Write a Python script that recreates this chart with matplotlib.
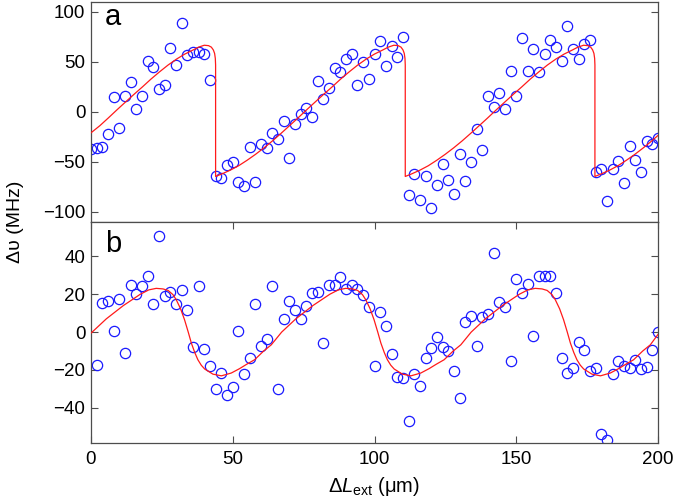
import matplotlib
matplotlib.use("Agg")
import matplotlib.pyplot as plt

plt.rcParams['font.family'] = ['Liberation Sans', 'DejaVu Sans']
plt.rcParams['mathtext.fontset'] = 'custom'
plt.rcParams['mathtext.rm'] = 'Liberation Sans'
plt.rcParams['mathtext.it'] = 'Liberation Sans:italic'

# ---------------- data ----------------
# panel a: measured points (x = 0..200 step 2)
a_x = list(range(0, 201, 2))
a_y = [-37.3, -36.3, -34.7, -22.3, 14.7, -16.3, 16, 30, 2.7, 16.3,
       51, 45.3, 23, 27.3, 63.7, 47.3, 89.3, 57, 60.3, 59.7,
       57.7, 32, -64, -66.7, -53.7, -50.3, -70, -74.7, -35.3, -70,
       -32, -36.7, -20.7, -27.3, -8.7, -46, -12.3, -2, 3.7, -4.7,
       31, 13.3, 24.3, 44, 39.7, 53, 58, 27, 50.3, 33,
       57.7, 71.3, 46, 66.3, 55.3, 75.3, -83.7, -62.3, -88, -64,
       -96.3, -73.7, -52.7, -68, -82, -42.3, -69.7, -50.7, -17.3, -38,
       16.3, 4.7, 19.3, 2.7, 41, 16, 73.7, 41.3, 63.3, 39.7,
       58.3, 72, 65, 51, 85.7, 62.7, 52.7, 67.7, 72, -60,
       -57.3, -89.3, -57, -49.7, -71.7, -33.7, -48.7, -60.3, -28.7, -32,
       -25.7]

# panel a: fitted curve
a_fit_x = [0, 3.15, 6.15, 9.15, 12.15, 15.15, 18.15, 21.15, 24.15, 27.15,
           30.15, 33.05, 36.05, 37.95, 39.95, 41.45, 42.45, 43.15, 43.6, 43.85,
           43.95, 43.95,
           46.05, 49.05, 52.05, 55.05, 58.05, 61.05, 64.05, 67.05, 70.05, 73.05,
           76.05, 79.05, 82.05, 85.05, 88.05, 91.05, 94.05, 97.05, 99.95, 102.95,
           104.85, 106.85, 108.35, 109.35, 110.05, 110.5, 110.75, 110.85, 110.85,
           112.95, 115.95, 118.95, 121.95, 124.95, 127.95, 130.95, 133.95, 136.95,
           139.95, 142.95, 145.95, 148.95, 151.95, 154.95, 157.95, 160.95, 163.95,
           166.85, 169.85, 171.75, 173.75, 175.25, 176.25, 176.95, 177.4, 177.65,
           177.75, 177.75,
           179.85, 182.85, 185.85, 188.85, 191.85, 194.85, 197.85, 200]
a_fit_y = [-21, -13.8, -6, 2, 9.8, 17.5, 25, 32.8, 40, 46.8,
           52.8, 57.8, 62, 64.8, 66.7, 66.3, 64.8, 62, 58.5, 53.5,
           47, -64.7,
           -62.3, -58.5, -54, -48.5, -42.5, -36, -29, -21.5, -13.8, -6,
           2, 9.8, 17.5, 25, 32.8, 40, 46.8, 52.8, 57.8, 62,
           64.8, 66.7, 66.3, 64.8, 62, 58.5, 53.5, 47, -64.7,
           -62.3, -58.5, -54, -48.5, -42.5, -36, -29, -21.5, -13.8,
           -6, 2, 9.8, 17.5, 25, 32.8, 40, 46.8, 52.8,
           57.8, 62, 64.8, 66.7, 66.3, 64.8, 62, 58.5, 53.5,
           47, -64.7,
           -62.3, -58.5, -54, -48.5, -42.5, -36, -29, -23.6]

# panel b: measured points (x = 2..200 step 2)
b_x = list(range(2, 201, 2))
b_y = [-17.6, 15.3, 16.3, 0.5, 17.5, -11.1, 25.1, 20, 24.5, 29.4,
       15, 51, 19.3, 21.3, 14.8, 22.3, 11.8, -8.1, 24.6, -8.9,
       -17.9, -30.2, -21.8, -33.4, -29, 0.5, -22.3, -13.7, 14.8, -7.1,
       -3.6, 24.6, -29.8, 6.7, 16.4, 11.5, 7, 13.6, 20.4, 21.1,
       -5.8, 24.8, 25.1, 29, 22.5, 24.7, 23, 19.5, 13, -17.9,
       10.4, 3, -11.7, -23.8, -24.5, -47.2, -22, -28.3, -13.7, -8.4,
       -2.8, -7.9, -10.2, -20.3, -34.8, 5.1, 8.4, -7.1, 8.1, 9.7,
       41.7, 15.7, 13.5, -15, 28.1, 20.6, 25.5, -1.8, 29.7, 29.4,
       29.5, 20.4, -13.7, -21.5, -18.9, -5.3, -9.6, -20.8, -18.7, -53.7,
       -57.2, -22, -15.5, -18.1, -18.9, -14.5, -19.5, -18.6, -9.3, 0]

# panel b: fitted curve
b_fit_x = [0, 0.4, 5.4, 11.4, 17.4, 20.4, 23.0, 25.4, 27.2, 28.9, 30.1, 31.6,
           33.0, 34.3, 35.4, 36.6, 37.7, 38.9, 40.1, 43.0, 46.0, 49.5, 52.4,
           54.9, 57.7, 60.9, 63.6,
           67.25, 72.25, 78.25, 84.25, 87.25, 89.85, 92.25, 94.05, 95.75, 96.95,
           98.45, 99.85, 101.15, 102.25, 103.45, 104.55, 105.75, 106.95, 109.85,
           112.85, 116.35, 119.25, 121.75, 124.55, 127.75, 130.45,
           134.1, 139.1, 145.1, 151.1, 154.1, 156.7, 159.1, 160.9, 162.6, 163.8,
           165.3, 166.7, 168.0, 169.1, 170.3, 171.4, 172.6, 173.8, 176.7, 179.7,
           183.2, 186.1, 188.6, 191.4, 194.6, 197.3, 200]
b_fit_y = [-0.5, 0, 7, 14, 20, 22.3, 23.1, 22.8, 22, 19.8, 17, 12.3,
           6.5, 0, -5.8, -10.8, -14.6, -17.5, -19.5, -22.2, -23.1, -21.6, -19.3,
           -17, -14.6, -10, -6.7,
           0, 7, 14, 20, 22.3, 23.1, 22.8, 22, 19.8, 17,
           12.3, 6.5, 0, -5.8, -10.8, -14.6, -17.5, -19.5, -22.2,
           -23.1, -21.6, -19.3, -17, -14.6, -10, -6.7,
           0, 7, 14, 20, 22.3, 23.1, 22.8, 22, 19.8, 17,
           12.3, 6.5, 0, -5.8, -10.8, -14.6, -17.5, -19.5, -22.2, -23.1,
           -21.6, -19.3, -17, -14.6, -10, -6.7, -1.2]

a_yticks = [-100, -50, 0, 50, 100]
a_yticklabels = ['\u2212100', '\u221250', '0', '50', '100']
b_yticks = [-40, -20, 0, 20, 40]
b_yticklabels = ['\u221240', '\u221220', '0', '20', '40']
x_ticks = [0, 50, 100, 150, 200]

# ---------------- figure ----------------
fig = plt.figure(figsize=(6.75, 5.04), dpi=100)
left, width = 91 / 675, 567 / 675
ax_a = fig.add_axes([left, 1 - 221.7 / 504, width, 219.7 / 504])
ax_b = fig.add_axes([left, 1 - 442.5 / 504, width, 220.8 / 504])

spine_col = '#4d4d4d'
for ax, xs, ys in ((ax_a, a_x, a_y), (ax_b, b_x, b_y)):
    ax.plot(xs, ys, 'o', mfc='none', mec='#1a1aff', ms=7.4, mew=0.9, zorder=2)
    for s in ax.spines.values():
        s.set_color(spine_col)
        s.set_linewidth(0.9)
    ax.set_xlim(0, 200)
    ax.tick_params(direction='in', length=4.7, width=0.8, color=spine_col,
                   labelsize=13.5, left=True, right=True, pad=4)

ax_a.plot(a_fit_x, a_fit_y, '-', color='#ff1a1a', lw=0.9, zorder=3)
ax_b.plot(b_fit_x, b_fit_y, '-', color='#ff1a1a', lw=0.9, zorder=3)

ax_a.set_ylim(-110, 110)
ax_a.set_yticks(a_yticks)
ax_a.set_yticklabels(a_yticklabels)
ax_a.set_xticks(x_ticks)
ax_a.tick_params(axis='x', bottom=False, top=False, labelbottom=False)

ax_b.set_ylim(-58.3, 58.3)
ax_b.set_yticks(b_yticks)
ax_b.set_yticklabels(b_yticklabels)
ax_b.set_xticks(x_ticks)
ax_b.tick_params(axis='x', bottom=True, top=True, labelbottom=True, pad=6)

ax_a.text(0.025, 0.895, 'a', transform=ax_a.transAxes, fontsize=21,
          ha='left', va='baseline')
ax_b.text(0.025, 0.863, 'b', transform=ax_b.transAxes, fontsize=21,
          ha='left', va='baseline')

fig.text(15 / 675, 1 - 222 / 504, '\u0394\u03c5 (MHz)', rotation=90,
         ha='center', va='center', fontsize=14)
fig.text(374 / 675, 1 - 487 / 504, '$\\Delta L_{\\mathrm{ext}}$ (\u03bcm)',
         ha='center', va='center', fontsize=14.5)

fig.savefig('out.png', dpi=100)
